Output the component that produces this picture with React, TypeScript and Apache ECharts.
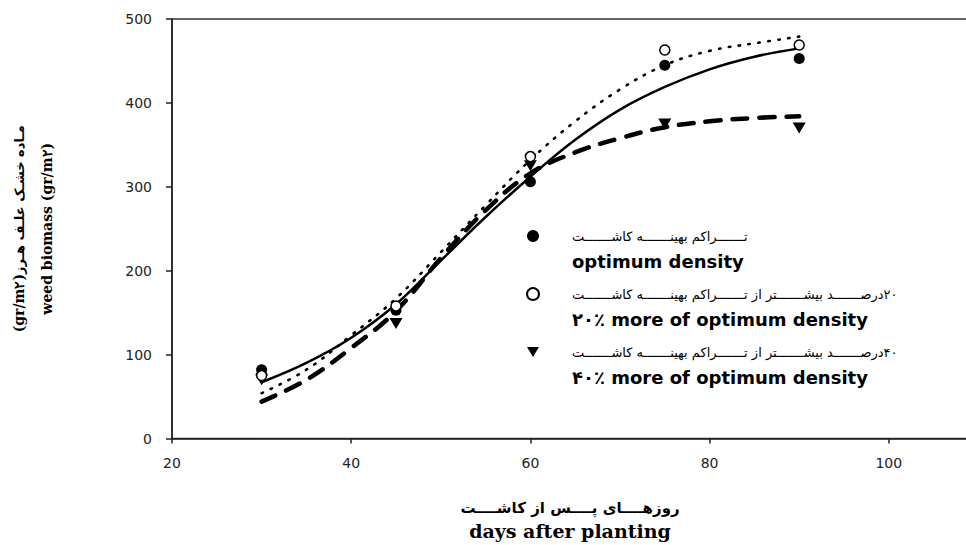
import React, { useEffect, useRef } from "react";
import * as echarts from "echarts";

// fitted curves
const curveDays = [30, 35, 40, 45, 50, 55, 60, 65, 70, 75, 80, 85, 90];
const optimumFit = [67, 90, 120, 160, 212, 264, 312, 356, 392, 419, 440, 455, 465];
const plus20Fit = [54, 82, 123, 167, 222, 278, 332, 378, 416, 445, 462, 471, 479];
const plus40Fit = [44, 70, 108, 152, 215, 272, 316, 341, 358, 371, 378, 382, 384];

// observations
const sampleDays = [30, 45, 60, 75, 90];
const optimumObs = [82, 153, 306, 445, 453];
const plus20Obs = [75, 158, 336, 463, 469];
const plus40Obs = [70, 137, 325, 375, 370];

const seriesNames = ["optimum density", "۲۰٪ more of optimum density", "۴۰٪ more of optimum density"];
const seriesNamesFa = [
  "تـــــــراکم بهینـــــــه کاشـــــــت",
  "۲۰درصـــــــد بیشـــــــتر از تـــــــراکم بهینـــــــه کاشـــــــت",
  "۴۰درصـــــــد بیشـــــــتر از تـــــــراکم بهینـــــــه کاشـــــــت",
];

const xTitleFa = "روزهــــای پــــس از کاشــــت";
const xTitleEn = "days after planting";
const yTitleFa = "مـاده خشـک علـف هـرز";
const yTitleUnit = "(gr/m۲)";
const yTitleEn = "weed biomass (gr/m۲)";

const RLM = "\u200F";
const pair = (xs: number[], ys: number[]) => xs.map((x, i) => [x, ys[i]]);

export default function App() {
  const ref = useRef<HTMLDivElement>(null);
  useEffect(() => {
    if (!ref.current) return;
    const chart = echarts.init(ref.current, undefined, { renderer: "svg" });
    const ink = "#000";
    const tickFont = { fontFamily: "DejaVu Sans", fontSize: 14, color: "#222" };
    chart.setOption({
      animation: false,
      backgroundColor: "#fff",
      grid: { left: 172, top: 19, bottom: 102, right: 32, show: true, borderColor: "#333", borderWidth: 1.5 },
      xAxis: {
        type: "value",
        min: 20,
        max: 120,
        interval: 20,
        splitLine: { show: false },
        axisLine: { lineStyle: { color: "#222", width: 1.5 } },
        axisTick: { show: true, length: 5, lineStyle: { color: "#222", width: 1.5 } },
        axisLabel: { ...tickFont, margin: 17, showMaxLabel: false },
        name: `{fa|${xTitleFa}}\n{en|${xTitleEn}}`,
        nameLocation: "middle",
        nameGap: 57,
        nameTextStyle: {
          padding: [0, 100, 0, 0],
          rich: {
            fa: { fontFamily: "DejaVu Sans", fontWeight: "bold", fontSize: 15, lineHeight: 24, color: ink },
            en: { fontFamily: "DejaVu Serif", fontWeight: "bold", fontSize: 19, lineHeight: 22, color: ink },
          },
        },
      },
      yAxis: {
        type: "value",
        min: 0,
        max: 500,
        interval: 100,
        splitLine: { show: false },
        axisLine: { show: true, lineStyle: { color: "#222", width: 1.5 } },
        axisTick: { show: true, length: 6, lineStyle: { color: "#222", width: 1.5 } },
        axisLabel: { ...tickFont, margin: 20 },
        name: `{unit|${yTitleUnit}}{fa|${yTitleFa}}\n{en|${yTitleEn}}`,
        nameLocation: "middle",
        nameRotate: 90,
        nameGap: 111,
        nameTextStyle: {
          rich: {
            unit: { fontFamily: "DejaVu Serif", fontWeight: "bold", fontSize: 14, lineHeight: 28, color: ink },
            fa: { fontFamily: "DejaVu Sans", fontWeight: "bold", fontSize: 13, lineHeight: 28, color: ink },
            en: { fontFamily: "DejaVu Serif", fontWeight: "bold", fontSize: 14, lineHeight: 28, color: ink },
          },
        },
      },
      legend: {
        orient: "vertical",
        left: 526,
        top: 206,
        padding: 0,
        itemGap: -6,
        itemWidth: 12,
        itemHeight: 12,
        data: [
          { name: seriesNames[0], icon: "circle" },
          { name: seriesNames[1], icon: "circle" },
          { name: seriesNames[2], icon: "path://M0,0 L12,0 L6,10 Z" },
        ],
        formatter: (name: string) => {
          const i = seriesNames.indexOf(name);
          return `{gap| }\n{fa|${RLM}${seriesNamesFa[i]}}\n{en|${name}}`;
        },
        textStyle: {
          rich: {
            gap: { fontSize: 10, lineHeight: 25 },
            fa: { fontFamily: "DejaVu Sans", fontSize: 13, lineHeight: 25, color: ink, padding: [0, 0, 0, 28] },
            en: { fontFamily: "DejaVu Sans", fontWeight: "bold", fontSize: 18, lineHeight: 25, color: ink, padding: [0, 0, 0, 28] },
          },
        },
      },
      series: [
        {
          name: "optimum fit",
          type: "line",
          smooth: 0.4,
          showSymbol: false,
          data: pair(curveDays, optimumFit),
          lineStyle: { color: ink, width: 2.5 },
          z: 2,
        },
        {
          name: "20% fit",
          type: "line",
          smooth: 0.4,
          showSymbol: false,
          data: pair(curveDays, plus20Fit),
          lineStyle: { color: ink, width: 2.6, type: [1.5, 8.5], cap: "round" },
          z: 2,
        },
        {
          name: "40% fit",
          type: "line",
          smooth: 0.4,
          showSymbol: false,
          data: pair(curveDays, plus40Fit),
          lineStyle: { color: ink, width: 4.5, type: [15, 12], cap: "round" },
          z: 2,
        },
        {
          name: seriesNames[0],
          type: "scatter",
          symbol: "circle",
          symbolSize: 11,
          data: pair(sampleDays, optimumObs),
          itemStyle: { color: ink, opacity: 1 },
          z: 3,
        },
        {
          name: seriesNames[1],
          type: "scatter",
          symbol: "circle",
          symbolSize: 10,
          data: pair(sampleDays, plus20Obs),
          itemStyle: { color: "#fff", borderColor: ink, borderWidth: 1.5, opacity: 1 },
          z: 4,
        },
        {
          name: seriesNames[2],
          type: "scatter",
          symbol: "triangle",
          symbolRotate: 180,
          symbolSize: [13, 11],
          data: pair(sampleDays, plus40Obs),
          itemStyle: { color: ink, opacity: 1 },
          z: 3,
        },
      ],
    });
    return () => chart.dispose();
  }, []);
  return (
    <div style={{ position: "fixed", left: 0, top: 0, width: 966, height: 545, overflow: "hidden", background: "#fff" }}>
      <div ref={ref} style={{ width: 1100, height: 545 }} />
    </div>
  );
}
